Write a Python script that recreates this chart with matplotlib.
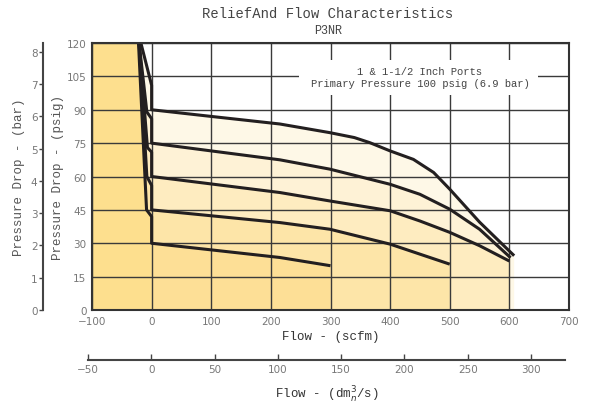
import matplotlib
matplotlib.use("Agg")
import matplotlib.pyplot as plt
from matplotlib.patches import Rectangle

# ---- data ----
flow_ticks = [-100, 0, 100, 200, 300, 400, 500, 600, 700]
psi_ticks = [0, 15, 30, 45, 60, 75, 90, 105, 120]
bar_ticks = [0, 1, 2, 3, 4, 5, 6, 7, 8]
dm3_ticks = [-50, 0, 50, 100, 150, 200, 250, 300]

# relief (left, steep) parts of each curve
relief_90_x = [-18, 0, 0]
relief_90_y = [120, 101, 90]
relief_75_x = [-21, -8, 0, 0]
relief_75_y = [120, 89, 86, 75]
relief_60_x = [-21, -7, 0, 0]
relief_60_y = [120, 73, 71, 60]
relief_45_x = [-21, -8, 0, 0]
relief_45_y = [120, 60, 56, 45]
relief_30_x = [-22, -8.5, 0, 0]
relief_30_y = [120, 45, 42, 30]

# flow parts of each curve (scfm, psig)
flow_90 = [0, 100, 215, 299, 340, 366, 400, 439, 473, 500, 550, 608]
psi_90 = [90, 87, 83.6, 79.7, 77.5, 75.2, 71.5, 67.7, 61.8, 54.3, 39.5, 24.4]
flow_75 = [0, 100, 215, 299, 400, 450, 500, 550, 602]
psi_75 = [75, 71.5, 67.5, 63.3, 56.5, 52, 45.3, 36.3, 23.5]
flow_60 = [0, 215, 299, 400, 450, 500, 550, 600]
psi_60 = [60.3, 52.8, 49, 44.6, 40, 34.9, 28.9, 22]
flow_45 = [0, 215, 299, 400, 450, 500]
psi_45 = [45.3, 39.3, 36.3, 29.6, 25.1, 20.6]
flow_30 = [0, 215, 300]
psi_30 = [30.5, 23.6, 19.9]

PSI_PER_BAR = 14.5

title = "ReliefAnd Flow Characteristics"
subtitle = "P3NR"
note = "1 & 1-1/2 Inch Ports\nPrimary Pressure 100 psig (6.9 bar)"

# ---- figure ----
W, H = 592, 406
fig = plt.figure(figsize=(W / 100, H / 100), dpi=100)
mono = "Liberation Mono"
line_c = "#231F20"

ax = fig.add_axes([92 / W, 1 - 311 / H, 477 / W, 267 / H])
ax.set_xlim(-100, 700)
ax.set_ylim(0, 120)
ax.set_xticks(flow_ticks)
ax.set_yticks(psi_ticks)
ax.grid(True, color="#3a3a3a", lw=1.0)
ax.set_axisbelow(False)
ax.tick_params(length=0, labelsize=7.5, labelcolor="#777777")
ax.tick_params(axis="x", pad=4)
ax.tick_params(axis="y", pad=4)
for s in ax.spines.values():
    s.set_color("#333333")
    s.set_linewidth(1.5)
    s.set_zorder(5)

curves = [
    (relief_90_x, relief_90_y, flow_90, psi_90, "#FEF8E7"),
    (relief_75_x, relief_75_y, flow_75, psi_75, "#FEF2D6"),
    (relief_60_x, relief_60_y, flow_60, psi_60, "#FEECC0"),
    (relief_45_x, relief_45_y, flow_45, psi_45, "#FDE5A8"),
    (relief_30_x, relief_30_y, flow_30, psi_30, "#FDDF96"),
]
for rx, ry, fx, fy, col in curves:
    xs = rx + fx[1:]
    ys = ry + fy[1:]
    px = xs + [xs[-1], xs[0]]
    py = ys + [0, 0]
    ax.fill(px, py, color=col, lw=0, zorder=1)

# left (relief) region
lx = [-100, -100] + relief_30_x + [0]
ly = [0, 120] + relief_30_y + [0]
ax.fill(lx, ly, color="#FDDF8E", lw=0, zorder=1.1)

for rx, ry, fx, fy, col in curves:
    ax.plot(rx + fx[1:], ry + fy[1:], color=line_c, lw=2.2,
            solid_joinstyle="round", solid_capstyle="butt", zorder=4)

# note box
ax.add_patch(Rectangle((248, 96.5), 400, 16, facecolor="white",
                       edgecolor="none", zorder=3))
ax.text(450, 104.5, note, ha="center", va="center", fontsize=7.6,
        family=mono, color="#444444", linespacing=1.25, zorder=4)

ax.set_xlabel("Flow - (scfm)", family=mono, fontsize=9, color="#333333",
              labelpad=3)
ax.set_ylabel("Pressure Drop - (psig)", family=mono, fontsize=9,
              color="#555555", labelpad=2)

# bar axis
axb = fig.add_axes([43 / W, 1 - 311 / H, 0.0001, 267 / H])
axb.set_ylim(0, 120 / PSI_PER_BAR)
axb.set_yticks(bar_ticks)
axb.set_xticks([])
for k in ("top", "right", "bottom"):
    axb.spines[k].set_visible(False)
axb.spines["left"].set_color("#444444")
axb.spines["left"].set_linewidth(1.5)
axb.patch.set_visible(False)
axb.tick_params(axis="y", direction="out", length=3, width=1, color="#444444",
                labelsize=7.5, labelcolor="#777777", pad=1)
axb.set_ylabel("Pressure Drop - (bar)", family=mono, fontsize=9,
               color="#555555", labelpad=4)

# dm3/s axis
axd = fig.add_axes([88 / W, 1 - 361 / H, 477 / W, 0.0001])
axd.set_xlim(-50, 326.8)
axd.set_xticks(dm3_ticks)
axd.set_yticks([])
for k in ("top", "right", "left"):
    axd.spines[k].set_visible(False)
axd.spines["bottom"].set_color("#444444")
axd.spines["bottom"].set_linewidth(1.5)
axd.patch.set_visible(False)
axd.tick_params(axis="x", direction="in", length=4, width=1, color="#444444",
                labelsize=7.5, labelcolor="#777777", pad=3)
axd.set_xlabel(r"Flow - (dm$^{3}_{n}$/s)", family=mono, fontsize=9,
               color="#333333", labelpad=7)

fig.text(328 / W, 1 - 14 / H, title, ha="center", va="center",
         family=mono, fontsize=10, color="#444444")
fig.text(328 / W, 1 - 31 / H, subtitle, ha="center", va="center",
         family=mono, fontsize=8.5, color="#444444")

fig.savefig("out.png", dpi=100)
